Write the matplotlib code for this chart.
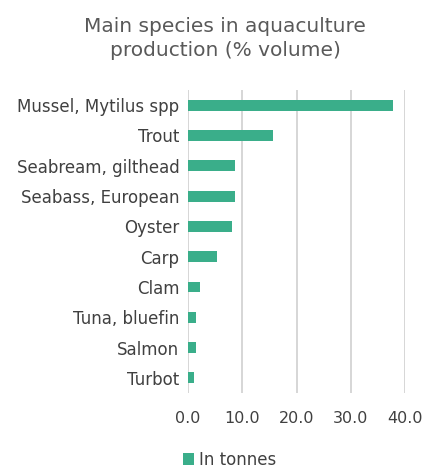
import numpy as np
import matplotlib.pyplot as plt

species = ['Mussel, Mytilus spp', 'Trout', 'Seabream, gilthead', 'Seabass, European',
           'Oyster', 'Carp', 'Clam', 'Tuna, bluefin', 'Salmon', 'Turbot']
share = [37.7, 15.7, 8.6, 8.6, 8.1, 5.4, 2.2, 1.6, 1.5, 1.1]
ticks = [0, 10, 20, 30, 40]

bar_col = '#3aae8a'
txt_col = '#404040'

fig = plt.figure(figsize=(4.25, 4.69), dpi=100)
ax = fig.add_axes([0.4417, 0.162, 0.512, 0.646])

y = np.arange(len(species))
ax.barh(y, share, height=0.36, color=bar_col, label='In tonnes', zorder=3)
ax.set_ylim(len(species) - 0.5, -0.5)
ax.set_xlim(0, 40)
ax.set_yticks(y)
ax.set_yticklabels(species, fontsize=12, color=txt_col)
ax.set_xticks(ticks)
ax.set_xticklabels(['%.1f' % t for t in ticks], fontsize=11.5, color=txt_col)
ax.tick_params(length=0, pad=6)
ax.tick_params(axis='x', pad=13)
ax.grid(axis='x', color='#d0d0d0', linewidth=1.2, zorder=0)
for s in ax.spines.values():
    s.set_visible(False)

fig.text(0.53, 0.918, 'Main species in aquaculture\nproduction (% volume)',
         ha='center', va='center', fontsize=14.5, color='#595959', linespacing=1.35)

fig.legend(loc='center', bbox_to_anchor=(0.54, 0.02), frameon=False, fontsize=12,
           handlelength=0.7, handleheight=0.7, handletextpad=0.3, labelcolor=txt_col)

fig.savefig('out.png', dpi=100)
